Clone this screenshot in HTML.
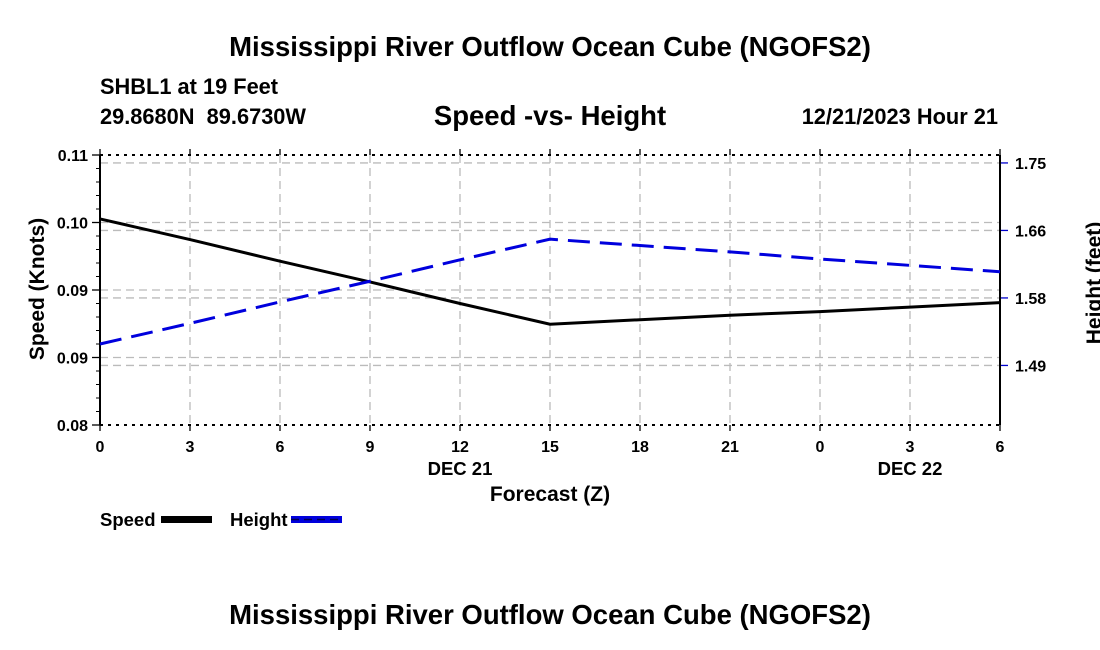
<!DOCTYPE html>
<html><head><meta charset="utf-8"><style>
body{margin:0;background:#fff;}
svg{display:block;font-family:"Liberation Sans",sans-serif;font-weight:bold;}
</style></head><body>
<svg id="chart" width="1100" height="650" viewBox="0 0 1100 650">
<text x="550" y="56" text-anchor="middle" font-size="27.5">Mississippi River Outflow Ocean Cube (NGOFS2)</text>
<text x="100" y="94" font-size="21.8">SHBL1 at 19 Feet</text>
<text x="100" y="124" font-size="21.8">29.8680N&#160;&#160;89.6730W</text>
<text x="550" y="125" text-anchor="middle" font-size="27.5">Speed -vs- Height</text>
<text x="998" y="124" text-anchor="end" font-size="21.8">12/21/2023 Hour 21</text>
<g id="grid"></g>
<g id="axes"></g>
<g id="series"></g>
<text x="550" y="501" text-anchor="middle" font-size="21">Forecast (Z)</text>
<text transform="translate(44,289) rotate(-90)" text-anchor="middle" font-size="21">Speed (Knots)</text>
<text transform="translate(1101,283) rotate(-90)" text-anchor="middle" font-size="21">Height (feet)</text>
<g>
<g>
<text x="100" y="526" font-size="18.5">Speed</text>
<rect x="161" y="516" width="51" height="7" fill="#000"/>
</g>
<g>
<text x="230" y="526" font-size="18.5">Height</text>
<rect x="291" y="516" width="51" height="7" fill="#0000dd"/>
<line x1="291" y1="519.5" x2="342" y2="519.5" stroke="#000050" stroke-width="1.5" stroke-dasharray="8,5"/>
</g>
</g>
<text x="550" y="624" text-anchor="middle" font-size="27.5">Mississippi River Outflow Ocean Cube (NGOFS2)</text>
</svg>
<script>
const hours = [0,3,6,9,12,15,18,21,24,27,30];
const xTickLabels = ["0","3","6","9","12","15","18","21","0","3","6"];
const dayLabels = ["DEC 21","DEC 22"];
const dayLabelHours = [12,27];
const speedValues = [0.1029,0.1006,0.0982,0.0959,0.0935,0.0912,0.0917,0.0922,0.0926,0.0931,0.0936];
const heightValues = [1.517,1.543,1.570,1.596,1.623,1.649,1.641,1.633,1.624,1.616,1.608];
const speedTicks = [0.08,0.0875,0.095,0.1025,0.11];
const speedTickLabels = ["0.08","0.09","0.09","0.10","0.11"];
const heightTicks = [1.49,1.575,1.66,1.745];
const heightTickLabels = ["1.49","1.58","1.66","1.75"];

const L=100,R=1000,T=155,B=425;
const sMin=0.08,sMax=0.11,hMin=1.415,hMax=1.755;
const xs=h=>L+(h-0)/30*(R-L);
const ys=v=>B-(v-sMin)/(sMax-sMin)*(B-T);
const yh=v=>B-(v-hMin)/(hMax-hMin)*(B-T);
const NS="http://www.w3.org/2000/svg";
function mk(tag,attrs,parent){const e=document.createElementNS(NS,tag);for(const k in attrs)e.setAttribute(k,attrs[k]);parent.appendChild(e);return e;}
const grid=document.getElementById('grid'),axes=document.getElementById('axes'),series=document.getElementById('series');
hours.forEach((h,i)=>{
  const x=xs(h);
  if(i>0&&i<hours.length-1){const g=mk('line',{x1:x,y1:T,x2:x,y2:B,stroke:'#bbb','stroke-width':1.3,'stroke-dasharray':'8,5'},grid);
  
  }
  mk('line',{x1:x,y1:B,x2:x,y2:B+6,stroke:'#000','stroke-width':1.3},axes);
  mk('line',{x1:x,y1:T,x2:x,y2:T-6,stroke:'#000','stroke-width':1.3},axes);
  const t=mk('text',{x:x,y:452,'text-anchor':'middle','font-size':16},axes);t.textContent=xTickLabels[i];
  
  
});
dayLabels.forEach((d,i)=>{const t=mk('text',{x:xs(dayLabelHours[i]),y:475,'text-anchor':'middle','font-size':18.5},axes);t.textContent=d;
  
  });
speedTicks.forEach((v,i)=>{
  const y=ys(v);
  if(i>0&&i<speedTicks.length-1){const g=mk('line',{x1:L,y1:y,x2:R,y2:y,stroke:'#bbb','stroke-width':1.3,'stroke-dasharray':'8,5'},grid);
  
  }
  mk('line',{x1:L-8,y1:y,x2:L,y2:y,stroke:'#000','stroke-width':1.3},axes);
  const t=mk('text',{x:L-12,y:y+6,'text-anchor':'end','font-size':16},axes);t.textContent=speedTickLabels[i];
  
  
});
for(let k=1;k<20;k++){const y=T+k*(B-T)/20;mk('line',{x1:L-4,y1:y,x2:L,y2:y,stroke:'#000','stroke-width':1},axes);}
heightTicks.forEach((v,i)=>{
  const y=yh(v);
  const g=mk('line',{x1:L,y1:y,x2:R,y2:y,stroke:'#bbb','stroke-width':1.3,'stroke-dasharray':'8,5'},grid);
  
  
  mk('line',{x1:R,y1:y,x2:R+8,y2:y,stroke:'#0000cc','stroke-width':1.3},axes);
  const t=mk('text',{x:R+15,y:y+6,'font-size':16},axes);t.textContent=heightTickLabels[i];
  
  
});
mk('line',{x1:L,y1:T,x2:R,y2:T,stroke:'#000','stroke-width':2,'stroke-dasharray':'3,5'},axes);
mk('line',{x1:L,y1:B,x2:R,y2:B,stroke:'#000','stroke-width':2,'stroke-dasharray':'3,5'},axes);
mk('line',{x1:L,y1:T,x2:L,y2:B,stroke:'#000','stroke-width':2},axes);
mk('line',{x1:R,y1:T,x2:R,y2:B,stroke:'#000','stroke-width':2},axes);
const sp=mk('polyline',{points:hours.map((h,i)=>xs(h)+','+ys(speedValues[i])).join(' '),fill:'none',stroke:'#000','stroke-width':3},series);


const hp=mk('polyline',{points:hours.map((h,i)=>xs(h)+','+yh(heightValues[i])).join(' '),fill:'none',stroke:'#0000dd','stroke-width':3,'stroke-dasharray':'22,10'},series);


</script>
</body></html>
